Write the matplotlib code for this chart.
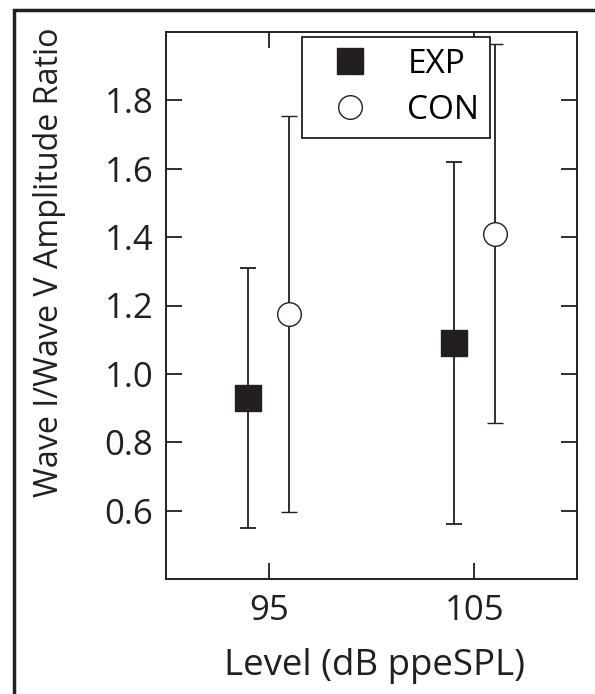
import matplotlib
matplotlib.use('Agg')
import matplotlib.pyplot as plt
from matplotlib.patches import Rectangle

plt.rcParams['font.family'] = ['Open Sans', 'DejaVu Sans']

levels = [95, 105]
exp_mean = [0.93, 1.09]
exp_err = [0.38, 0.53]
con_mean = [1.175, 1.41]
con_err = [0.58, 0.555]
offset = 1.0
ink = '#231f20'

W, H = 595, 694
fig = plt.figure(figsize=(W / 100, H / 100), dpi=100)
ax = fig.add_axes([166 / W, 1 - 579 / H, (577 - 166) / W, (579 - 32) / H])

ax.errorbar([x - offset for x in levels], exp_mean, yerr=exp_err, fmt='s', color=ink,
            ms=18.5, mfc=ink, mec=ink, ecolor=ink, elinewidth=1.3, capsize=5.6, capthick=1.3,
            label='EXP', zorder=3)
ax.errorbar([x + offset for x in levels], con_mean, yerr=con_err, fmt='o', color=ink,
            ms=17, mfc='white', mec=ink, mew=1.0, ecolor=ink, elinewidth=1.3, capsize=5.6,
            capthick=1.3, label='CON', zorder=3)

ax.set_xlim(90, 110)
ax.set_ylim(0.4, 2.0)
ax.set_xticks(levels)
ax.set_yticks([0.6, 0.8, 1.0, 1.2, 1.4, 1.6, 1.8])
ax.set_yticklabels(['0.6', '0.8', '1.0', '1.2', '1.4', '1.6', '1.8'])
ax.tick_params(direction='in', length=11.5, width=1.3, labelsize=25, colors=ink,
               top=True, right=True)
ax.tick_params(axis='y', pad=9)
ax.tick_params(axis='x', pad=11)
for s in ax.spines.values():
    s.set_linewidth(1.4)
    s.set_color(ink)

xl = ax.set_xlabel('Level (dB ppeSPL)', fontsize=24, color=ink)
yl = ax.set_ylabel('Wave I/Wave V Amplitude Ratio', fontsize=24, color=ink)

# size the axis titles to the width they take in the original
fig.canvas.draw()
r = fig.canvas.get_renderer()
xl.set_fontsize(24 * 302 / xl.get_window_extent(r).width)
yl.set_fontsize(24 * 470 / yl.get_window_extent(r).height)
ax.xaxis.set_label_coords(374 / W, 1 - 648 / H, transform=fig.transFigure)
ax.yaxis.set_label_coords(66 / W, 1 - 262 / H, transform=fig.transFigure)
xl.set_va('top')

handles, labels = ax.get_legend_handles_labels()
handles = [h[0] for h in handles]
leg = ax.legend(handles, labels, loc='upper left',
                bbox_to_anchor=(302 / W, 1 - 37 / H), bbox_transform=fig.transFigure,
                fontsize=24, frameon=True, fancybox=False, handlelength=2.26,
                handletextpad=0.58, borderpad=0.32, labelspacing=0.4, borderaxespad=0)
leg.get_frame().set_edgecolor(ink)
leg.get_frame().set_linewidth(1.3)
leg.get_frame().set_alpha(1)

# outer frame around the figure
fig.patches.append(Rectangle((14 / W, -0.1), 1.2, 1 - 10 / H + 0.1, transform=fig.transFigure,
                             fill=False, ec=ink, lw=2.5))

fig.savefig('out.png', dpi=100)
